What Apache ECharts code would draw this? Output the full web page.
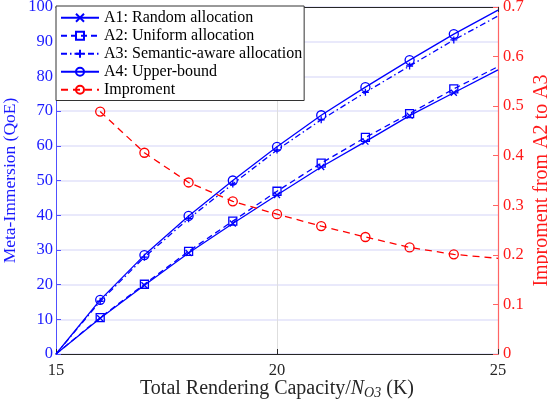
<!DOCTYPE html>
<html><head><meta charset="utf-8">
<script src="https://cdn.jsdelivr.net/npm/echarts@6/dist/echarts.min.js"></script>
<style>html,body{margin:0;padding:0;background:#fff}#c{width:548px;height:402px}</style>
</head><body><div id="c"></div>
<script>
const capacity = [15,16,17,18,19,20,21,22,23,24,25];
const a1Random   = [0,10.3,19.8,29.1,37.6,45.8,53.9,61.2,68.7,75.3,81.9];
const a2Uniform  = [0,10.5,20.1,29.6,38.3,46.9,55.0,62.4,69.3,76.4,82.8];
const a3Semantic = [0,15.2,27.9,39.0,49.0,58.8,67.5,75.4,83.0,90.5,97.4];
const a4Upper    = [0,15.6,28.5,39.8,50.0,59.7,68.8,76.9,84.7,92.2,99.1];
const impCapacity = [16,17,18,19,20,21,22,23,24,25];
const improvement = [0.489,0.406,0.346,0.308,0.282,0.258,0.236,0.215,0.201,0.193];
const xTicks = [15,20,25];

const BLUE = '#0000ff', RED = '#ff0000';
const SERIF = '"Liberation Serif","DejaVu Serif",serif';

function pts(xv, yv) {
  return xv.map((x, i) => {
    const item = { value: [x, yv[i]] };
    if (x === 15 || x === 25) item.symbol = 'none';
    return item;
  });
}
const SYM_X = 'path://M0,0L10,10M10,0L0,10';
const SYM_PLUS = 'path://M5,0L5,10M0,5L10,5';

function lineSeries(name, xv, yv, color, type, symbol, size, yIdx) {
  return {
    name, type: 'line', xAxisIndex: 0, yAxisIndex: yIdx || 0,
    data: pts(xv, yv),
    symbol, symbolSize: size, showAllSymbol: true,
    lineStyle: { color, width: 1.3, type },
    itemStyle: { color: 'rgba(0,0,0,0)', borderColor: color, borderWidth: 1.3 },
    emphasis: { disabled: true },
    animation: false
  };
}

const chart = echarts.init(document.getElementById('c'));
chart.setOption({
  animation: false,
  grid: { left: 56, right: 50, top: 7, bottom: 48, containLabel: false, outerBoundsMode: 'none' },
  legend: {
    left: 56, top: 6, orient: 'vertical',
    itemWidth: 38, itemHeight: 10, itemGap: 0.5,
    padding: [3, 2, 2, 4],
    backgroundColor: '#fff', borderColor: '#333', borderWidth: 1,
    textStyle: { fontFamily: SERIF, fontSize: 16, lineHeight: 17.5, color: '#000' },
    data: ['A1: Random allocation','A2: Uniform allocation','A3: Semantic-aware allocation','A4: Upper-bound','Improment']
  },
  xAxis: [{
    type: 'value', min: 15, max: 25, interval: 5,
    axisLine: { onZero: false, lineStyle: { color: '#262626', width: 1 } },
    axisTick: { inside: true, length: 5, lineStyle: { color: '#262626' } },
    axisLabel: { color: '#262626', fontFamily: SERIF, fontSize: 16.5, margin: 8,
      formatter: v => xTicks.includes(v) ? String(v) : '' },
    splitLine: { show: true, lineStyle: { color: '#dedede', width: 1 } },
    name: '{a|Total Rendering Capacity/}{i|N}{s|O3}{a| (K)}',
    nameLocation: 'middle', nameGap: 24, nameMoveOverlap: false,
    nameTextStyle: {
      rich: {
        a: { fontFamily: SERIF, fontSize: 20, color: '#262626' },
        i: { fontFamily: SERIF, fontSize: 20, fontStyle: 'italic', color: '#262626' },
        s: { fontFamily: SERIF, fontSize: 14, fontStyle: 'italic', color: '#262626', padding: [8, 0, 0, 0] }
      }
    }
  }, {
    type: 'value', min: 15, max: 25, interval: 5, position: 'top',
    axisLine: { onZero: false, lineStyle: { color: '#262626', width: 1 } },
    axisTick: { inside: true, length: 5, lineStyle: { color: '#262626' } },
    axisLabel: { show: false }, splitLine: { show: false }
  }],
  yAxis: [{
    type: 'value', min: 0, max: 100, interval: 10, position: 'left',
    axisLine: { show: true, lineStyle: { color: '#5050ff', width: 1 } },
    axisTick: { show: true, inside: true, length: 5, lineStyle: { color: '#5050ff' } },
    axisLabel: { color: '#1a1aff', fontFamily: SERIF, fontSize: 16.5, margin: 3 },
    splitLine: { show: true, lineStyle: { color: '#e2e2fa', width: 1.5 } },
    name: 'Meta-Immersion (QoE)', nameLocation: 'middle', nameGap: 37, nameRotate: 90, nameMoveOverlap: false,
    nameTextStyle: { color: '#1a1aff', fontFamily: SERIF, fontSize: 17.5 }
  }, {
    type: 'value', min: 0, max: 0.7, interval: 0.1, position: 'right',
    axisLine: { show: true, lineStyle: { color: '#ff6464', width: 1.2 } },
    axisTick: { show: true, inside: true, length: 5, lineStyle: { color: '#ff6464' } },
    axisLabel: { color: '#ff1a1a', fontFamily: SERIF, fontSize: 16.5, margin: 5,
      formatter: v => v === 0 ? '0' : v.toFixed(1) },
    splitLine: { show: false },
    name: 'Improment from A2 to A3', nameLocation: 'middle', nameGap: 34, nameRotate: 90, nameMoveOverlap: false,
    nameTextStyle: { color: '#ff1a1a', fontFamily: SERIF, fontSize: 20 }
  }],
  series: [
    lineSeries('A1: Random allocation', capacity, a1Random, BLUE, 'solid', SYM_X, 6),
    lineSeries('A2: Uniform allocation', capacity, a2Uniform, BLUE, [6, 4], 'rect', 8),
    lineSeries('A3: Semantic-aware allocation', capacity, a3Semantic, BLUE, [6, 3, 1.5, 3], SYM_PLUS, 7),
    lineSeries('A4: Upper-bound', capacity, a4Upper, BLUE, 'solid', 'circle', 9),
    lineSeries('Improment', impCapacity, improvement, RED, [7, 5], 'circle', 9, 1)
  ]
});
</script>
</body></html>
